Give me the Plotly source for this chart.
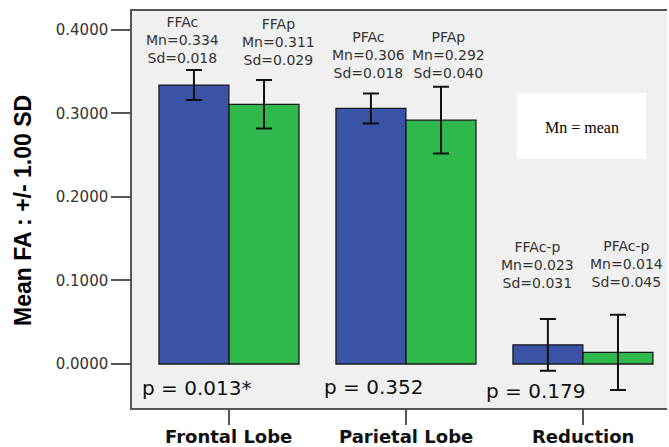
import plotly.graph_objects as go

# ---- data ----
categories = ["Frontal Lobe", "Parietal Lobe", "Reduction"]
control_labels = ["FFAc", "PFAc", "FFAc-p"]
patient_labels = ["FFAp", "PFAp", "PFAc-p"]
control_mean = [0.334, 0.306, 0.023]
control_sd = [0.018, 0.018, 0.031]
patient_mean = [0.311, 0.292, 0.014]
patient_sd = [0.029, 0.040, 0.045]
p_values = ["p = 0.013*", "p = 0.352", "p = 0.179"]
y_ticks = [0.0, 0.1, 0.2, 0.3, 0.4]

BLUE = "#3a53a6"
GREEN = "#2fb84b"
BG = "#f0f0f0"

idx = list(range(len(categories)))
half = 0.198
bw = 0.395

fig = go.Figure()
fig.add_trace(go.Bar(
    x=[i - half for i in idx], y=control_mean, width=bw,
    marker=dict(color=BLUE, line=dict(color="#1a1a1a", width=1.3)),
    error_y=dict(type="data", array=control_sd, visible=True,
                 color="#111111", thickness=2, width=8),
    showlegend=False, hoverinfo="skip"))
fig.add_trace(go.Bar(
    x=[i + half for i in idx], y=patient_mean, width=bw,
    marker=dict(color=GREEN, line=dict(color="#1a1a1a", width=1.3)),
    error_y=dict(type="data", array=patient_sd, visible=True,
                 color="#111111", thickness=2, width=8),
    showlegend=False, hoverinfo="skip"))

annotations = []
# value labels above bars
label_y = [[0.388, 0.386], [0.370, 0.370], [0.1186, 0.120]]
label_shift = [[-11, 14], [-2, 7], [-10, 9]]
for i in idx:
    for k, (lab, m, s) in enumerate([(control_labels[i], control_mean[i], control_sd[i]),
                                     (patient_labels[i], patient_mean[i], patient_sd[i])]):
        annotations.append(dict(
            x=i + (half if k else -half), y=label_y[i][k], xref="x", yref="y",
            text=f"{lab}<br>Mn={m:.3f}<br>Sd={s:.3f}", showarrow=False,
            xshift=label_shift[i][k], align="center",
            xanchor="center", yanchor="middle",
            font=dict(family="DejaVu Sans", size=14, color="#333333")))

# p values
p_x = [-0.486, 0.542, 1.458]
p_y = [-0.0287, -0.0275, -0.0323]
for i in idx:
    annotations.append(dict(
        x=p_x[i], y=p_y[i], xref="x", yref="y", xanchor="left", yanchor="middle",
        xshift=-3, text=p_values[i], showarrow=False,
        font=dict(family="DejaVu Sans", size=20, color="#111111")))

# category labels (below the x ticks)
for i in idx:
    annotations.append(dict(
        x=i, y=-0.0718, xref="x", yref="paper", xanchor="center", yanchor="middle",
        text=f"<b>{categories[i]}</b>", showarrow=False,
        font=dict(family="DejaVu Sans", size=18, color="#111111")))

# legend note
annotations.append(dict(
    x=0.8411, y=0.706, xref="paper", yref="paper", text="Mn = mean",
    xanchor="center", yanchor="middle",
    showarrow=False, font=dict(family="Liberation Serif", size=16, color="#000000")))

# y-axis title
annotations.append(dict(
    x=-0.205, y=0.497, xref="paper", yref="paper", text="<b>Mean FA : +/- 1.00 SD</b>",
    textangle=-90, showarrow=False, xanchor="center", yanchor="middle",
    font=dict(family="Liberation Sans, Arial, sans-serif", size=23, color="#000000")))

fig.update_layout(
    width=669, height=447,
    margin=dict(l=132, r=2, t=11, b=39, autoexpand=False),
    paper_bgcolor="white", plot_bgcolor=BG,
    barmode="overlay",
    annotations=annotations,
    shapes=[dict(type="rect", xref="paper", yref="paper",
                 x0=0.7196, x1=0.9607, y0=0.627, y1=0.7935,
                 fillcolor="white", line=dict(width=0), layer="above")],
)
fig.update_xaxes(
    range=[-0.548, 2.475], tickvals=idx, showticklabels=False,
    ticks="outside", ticklen=15, tickwidth=1.5, tickcolor="#555555",
    showline=True, linecolor="#555555", linewidth=1.5, mirror=True,
    showgrid=False, zeroline=False)
fig.update_yaxes(
    range=[-0.0527, 0.4227], tickvals=y_ticks, tickformat=".4f",
    ticks="outside", ticklen=19, tickwidth=1.5, tickcolor="#555555",
    showline=True, linecolor="#555555", linewidth=1.5, mirror=False,
    showgrid=False, zeroline=False,
    tickfont=dict(family="DejaVu Sans", size=15, color="#333333"))

fig.write_html("out.html", config={"displayModeBar": False},
               post_script="document.body.style.margin='0';document.body.style.padding='0';")
